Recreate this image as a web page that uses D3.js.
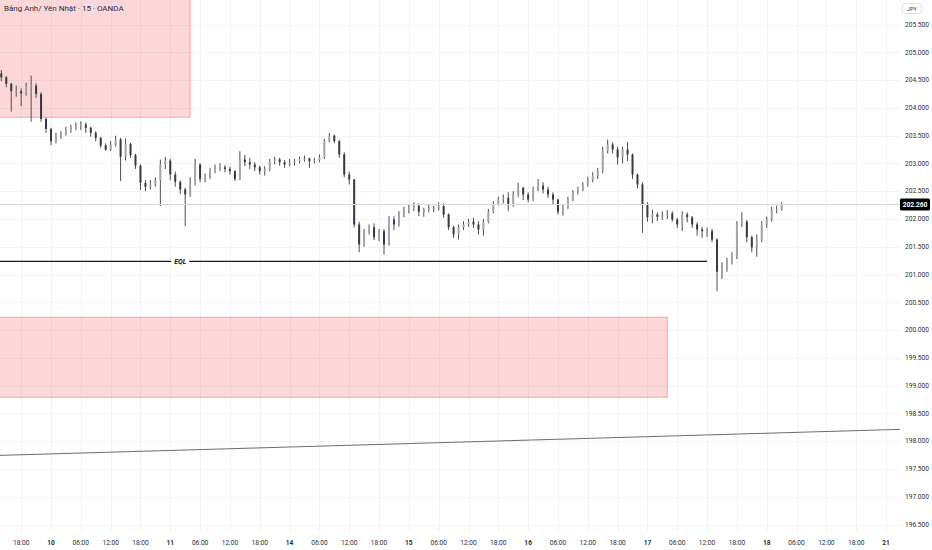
<!DOCTYPE html>
<html>
<head>
<meta charset="utf-8">
<script src="https://cdn.jsdelivr.net/npm/d3@7"></script>
<style>
  body { margin: 0; background: #fff; }
  svg { display: block; font-family: Roboto, "Noto Sans", sans-serif; }
</style>
</head>
<body>
<svg width="932" height="550"></svg>
<script>
// GBP/JPY candles, one per hour, hour 0 = day 10 00:00 (weekend hours skipped)
const title = "Bảng Anh/ Yên Nhật · 15 · OANDA";
const firstHour = -10;
const firstOpen = 204.62;
const closes = [
  204.55,204.43,204.30,204.30,204.26,204.38,204.40,204.25,203.80,203.62,
  203.40,203.48,203.52,203.60,203.65,203.68,203.70,203.64,203.55,203.46,
  203.32,203.25,203.33,203.43,203.12,203.35,203.15,202.96,202.65,202.58,
  202.62,202.70,202.98,203.05,202.80,202.67,202.53,202.44,202.62,202.98,
  202.72,202.75,202.86,202.90,202.93,202.90,202.86,202.72,203.07,203.02,
  202.98,202.93,202.86,202.89,203.04,203.07,203.02,202.98,203.02,203.04,
  203.08,203.09,203.04,203.06,203.11,203.40,203.50,203.40,203.16,202.80,
  202.71,201.90,201.54,201.78,201.85,201.67,201.78,201.54,201.99,201.90,
  202.08,202.17,202.20,202.24,202.13,202.17,202.20,202.20,202.23,202.08,
  201.85,201.72,201.85,201.90,201.95,201.90,201.81,201.95,202.13,202.26,
  202.35,202.38,202.26,202.44,202.56,202.44,202.35,202.53,202.60,202.53,
  202.44,202.35,202.13,202.20,202.35,202.48,202.53,202.62,202.71,202.78,
  202.86,203.22,203.34,203.25,203.11,203.25,203.16,202.80,202.62,202.26,
  202.03,202.08,202.04,202.08,202.10,201.99,201.90,202.08,202.03,201.90,
  201.81,201.78,201.78,201.63,201.05,201.13,201.24,201.31,201.90,201.95,
  201.67,201.49,201.63,201.90,201.99,202.17,202.17,202.26
];
const highs = [
  204.68,204.57,204.45,204.40,204.35,204.45,204.58,204.44,204.28,203.82,
  203.64,203.55,203.58,203.66,203.70,203.74,203.76,203.74,203.66,203.58,
  203.48,203.36,203.40,203.50,203.46,203.45,203.37,203.17,202.98,202.70,
  202.70,202.75,203.07,203.12,203.08,202.85,202.69,202.56,202.75,203.08,
  203.00,202.82,202.92,202.98,203.00,202.97,202.94,202.88,203.22,203.15,
  203.10,203.02,202.96,202.95,203.08,203.12,203.10,203.06,203.08,203.08,
  203.12,203.14,203.10,203.10,203.16,203.44,203.55,203.52,203.42,203.20,
  202.85,202.72,201.95,201.82,201.90,201.92,201.82,201.82,202.05,202.05,
  202.14,202.22,202.25,202.30,202.28,202.20,202.26,202.24,202.30,202.28,
  202.10,201.88,201.90,201.96,202.00,202.02,201.96,202.00,202.18,202.32,
  202.40,202.44,202.48,202.50,202.65,202.58,202.48,202.58,202.72,202.66,
  202.58,202.48,202.36,202.26,202.40,202.52,202.58,202.66,202.76,202.84,
  202.92,203.30,203.43,203.38,203.30,203.30,203.38,203.18,202.82,202.66,
  202.30,202.17,202.12,202.14,202.16,202.14,202.02,202.14,202.12,202.05,
  201.94,201.86,201.84,201.82,201.65,201.22,201.30,201.40,201.96,202.12,
  201.98,201.70,201.72,201.96,202.04,202.22,202.24,202.30
];
const lows = [
  204.48,204.37,203.93,204.20,204.03,204.22,203.75,204.18,203.75,203.55,
  203.33,203.36,203.44,203.50,203.55,203.60,203.60,203.55,203.48,203.40,
  203.28,203.22,203.22,203.30,202.68,203.05,203.10,202.90,202.52,202.50,
  202.53,202.58,202.23,202.90,202.70,202.58,202.45,201.87,202.40,202.60,
  202.66,202.66,202.72,202.82,202.86,202.84,202.80,202.68,202.70,202.95,
  202.90,202.86,202.80,202.78,202.86,202.98,202.96,202.92,202.95,202.96,
  203.00,203.03,202.92,203.00,203.02,203.08,203.38,203.36,203.10,202.75,
  202.62,201.85,201.40,201.50,201.72,201.62,201.60,201.36,201.52,201.80,
  201.86,202.03,202.10,202.14,202.05,202.04,202.12,202.12,202.15,202.02,
  201.80,201.66,201.63,201.80,201.86,201.84,201.72,201.70,201.92,202.10,
  202.24,202.28,202.14,202.22,202.40,202.34,202.30,202.32,202.50,202.46,
  202.38,202.26,202.08,202.06,202.18,202.32,202.44,202.50,202.58,202.66,
  202.72,202.82,203.18,203.18,202.98,203.00,203.04,202.72,202.55,201.75,
  201.95,201.92,201.96,201.98,202.00,201.95,201.84,201.78,201.94,201.84,
  201.70,201.66,201.68,201.58,200.70,200.92,201.05,201.18,201.28,201.85,
  201.58,201.40,201.32,201.58,201.84,201.95,202.10,202.15
];

const dayLabels = ["10", "11", "14", "15", "16", "17", "18", "21"];
const hourLabels = ["06:00", "12:00", "18:00"];
const priceTicks = [196.5, 197, 197.5, 198, 198.5, 199, 199.5, 200, 200.5, 201,
                    201.5, 202, 202.5, 203, 203.5, 204, 204.5, 205, 205.5];
const lastPrice = 202.26;
const currency = "JPY";

// drawings: supply zones, equal lows, long trend line
const zones = [
  { h0: -20, h1: 28, top: 206.5, bottom: 203.83 },
  { h0: -20, h1: 124, top: 200.23, bottom: 198.79 }
];
const eql = { h0: -20, h1: 132, price: 201.235, labelAt: 26, label: "EQL" };
const trend = [{ h: -10, p: 197.745 }, { h: 170, p: 198.21 }];

const svg = d3.select('svg');
const width = +svg.attr('width');
const height = +svg.attr('height');
const plotRight = 900;
const plotBottom = 531;

const x = d3.scaleLinear().domain([0, 168]).range([51, 886]);
const y = d3.scaleLinear().domain([196.5, 205.5]).range([524.5, 24.5]);

const candles = closes.map((c, i) => {
  const o = i === 0 ? firstOpen : closes[i - 1];
  return { h: firstHour + i, o, c,
           hi: Math.max(highs[i], o, c), lo: Math.min(lows[i], o, c) };
});

svg.append('defs').append('clipPath').attr('id', 'plot')
  .append('rect').attr('width', plotRight).attr('height', plotBottom);

// grid
const xTicks = d3.range(-6, 169, 6);
const grid = svg.append('g').attr('stroke', '#f3f3f5').attr('stroke-width', 1);
grid.selectAll('.gx').data(xTicks).enter().append('line')
  .attr('x1', d => Math.round(x(d)) + 0.5).attr('x2', d => Math.round(x(d)) + 0.5)
  .attr('y1', 0).attr('y2', plotBottom);
grid.selectAll('.gy').data(priceTicks).enter().append('line')
  .attr('y1', d => Math.round(y(d)) + 0.5).attr('y2', d => Math.round(y(d)) + 0.5)
  .attr('x1', 0).attr('x2', plotRight);

const plot = svg.append('g').attr('clip-path', 'url(#plot)');

// zones
plot.selectAll('.zone').data(zones).enter().append('rect')
  .attr('x', d => x(d.h0)).attr('y', d => y(d.top))
  .attr('width', d => x(d.h1) - x(d.h0))
  .attr('height', d => y(d.bottom) - y(d.top))
  .attr('fill', 'rgba(242,54,69,0.2)')
  .attr('stroke', 'rgba(242,54,69,0.4)')
  .attr('stroke-width', 1);

// trend line
const tSlope = (trend[1].p - trend[0].p) / (trend[1].h - trend[0].h);
const tAt = h => trend[0].p + (h - trend[0].h) * tSlope;
plot.append('line')
  .attr('x1', x(-20)).attr('y1', y(tAt(-20)))
  .attr('x2', x(180)).attr('y2', y(tAt(180)))
  .attr('stroke', '#6a6d76').attr('stroke-width', 1);

// last price line
svg.append('line')
  .attr('x1', 0).attr('x2', plotRight)
  .attr('y1', y(lastPrice)).attr('y2', y(lastPrice))
  .attr('stroke', '#d6d8de').attr('stroke-width', 1.2);

// equal lows
plot.append('line')
  .attr('x1', x(eql.h0)).attr('x2', x(eql.h1))
  .attr('y1', y(eql.price)).attr('y2', y(eql.price))
  .attr('stroke', '#131722').attr('stroke-width', 1.2);
plot.append('rect')
  .attr('x', x(eql.labelAt) - 9).attr('y', y(eql.price) - 4)
  .attr('width', 18).attr('height', 8).attr('fill', '#fff');
plot.append('text')
  .attr('x', x(eql.labelAt)).attr('y', y(eql.price) + 2.5)
  .attr('text-anchor', 'middle')
  .attr('font-size', 7).attr('font-style', 'italic').attr('font-weight', 'bold')
  .attr('fill', '#131722')
  .text(eql.label);

// candles
const bw = 2;
const cg = plot.append('g');
cg.selectAll('.wick').data(candles).enter().append('line')
  .attr('x1', d => x(d.h)).attr('x2', d => x(d.h))
  .attr('y1', d => y(d.hi)).attr('y2', d => y(d.lo))
  .attr('stroke', '#4a4d55').attr('stroke-width', 1);
cg.selectAll('.body').data(candles).enter().append('rect')
  .attr('x', d => x(d.h) - bw / 2)
  .attr('y', d => y(Math.max(d.o, d.c)))
  .attr('width', bw)
  .attr('height', d => Math.max(1, Math.abs(y(d.o) - y(d.c))))
  .attr('fill', d => d.c >= d.o ? '#a3a6ad' : '#363a45');

// price axis
const axisText = '#2a2e39';
svg.append('g').selectAll('text').data(priceTicks).enter().append('text')
  .attr('x', 905).attr('y', d => y(d) + 2.3)
  .attr('font-size', 6.6).attr('fill', axisText)
  .text(d => d.toFixed(3));

svg.append('rect')
  .attr('x', plotRight).attr('y', y(lastPrice) - 6)
  .attr('width', 30).attr('height', 12).attr('rx', 1.5)
  .attr('fill', '#000');
svg.append('text')
  .attr('x', 915).attr('y', y(lastPrice) + 2.4)
  .attr('text-anchor', 'middle').attr('font-size', 6.6).attr('font-weight', 'bold')
  .attr('fill', '#fff').text(lastPrice.toFixed(3));

svg.append('rect')
  .attr('x', 902.5).attr('y', 3.5).attr('width', 19).attr('height', 10).attr('rx', 2)
  .attr('fill', '#fff').attr('stroke', '#e0e3eb');
svg.append('text')
  .attr('x', 912).attr('y', 10.5).attr('text-anchor', 'middle')
  .attr('font-size', 5.5).attr('fill', axisText).text(currency);

// time axis
const tickLabel = h => {
  const k = ((h % 24) + 24) % 24;
  return k === 0 ? dayLabels[h / 24] : hourLabels[k / 6 - 1];
};
svg.append('g').selectAll('text').data(xTicks).enter().append('text')
  .attr('x', d => x(d)).attr('y', 545)
  .attr('text-anchor', 'middle').attr('font-size', 6.6)
  .attr('font-weight', d => d % 24 === 0 ? 'bold' : 'normal')
  .attr('fill', axisText)
  .text(tickLabel);

// title
svg.append('text')
  .attr('x', 4).attr('y', 10.5)
  .attr('font-size', 8).attr('fill', axisText)
  .text(title);
</script>
</body>
</html>
